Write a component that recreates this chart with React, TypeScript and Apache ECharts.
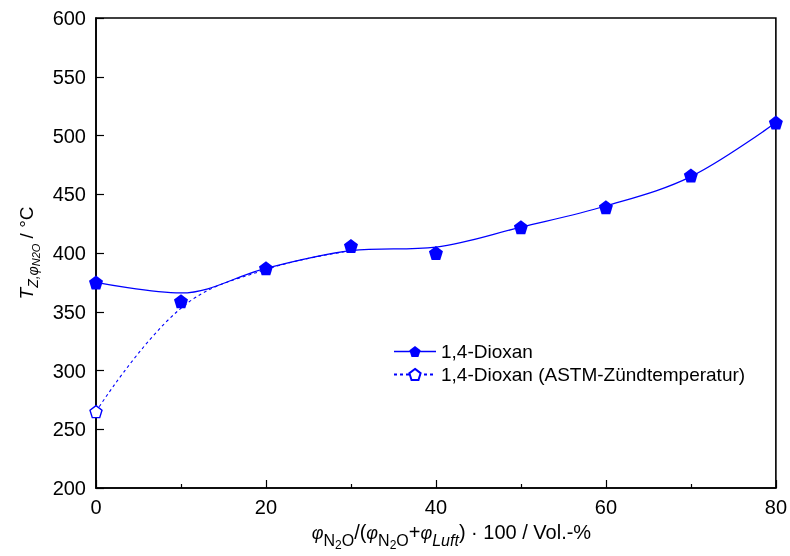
import React, { useEffect, useRef } from "react";
import * as echarts from "echarts";

// Volumenanteil N2O in %
const X_VALUES = [0, 10, 20, 30, 40, 50, 60, 70, 80];
// gemessene Zündtemperaturen 1,4-Dioxan / °C
const DIOXAN = [375, 359, 387, 406, 400, 422, 439, 466, 511];
// geglätteter Verlauf der Messreihe / °C
const DIOXAN_TREND = [375, 366, 387, 402, 405, 422, 440, 465, 511];
// ASTM-Zündtemperatur und Übergang in die Messreihe
const ASTM_X = [0, 10, 20, 30];
const ASTM = [265, 353, 386, 402];

const Y_TICKS = { min: 200, max: 600, interval: 50 };
const X_TICKS = { min: 0, max: 80, interval: 20 };

const BLUE = "#0000ff";
const FONT = "'Liberation Sans', Arial, sans-serif";
const PENTAGON = "path://M0,-10L9.51,-3.09L5.88,8.09L-5.88,8.09L-9.51,-3.09Z";

export default function App() {
  const ref = useRef<HTMLDivElement>(null);

  useEffect(() => {
    if (!ref.current) return;
    const chart = echarts.init(ref.current, undefined, { renderer: "svg" });

    const measured = X_VALUES.map((x, i) => [x, DIOXAN[i]]);
    const trend = X_VALUES.map((x, i) => [x, DIOXAN_TREND[i]]);
    const astm = ASTM_X.map((x, i) =>
      i === 0 ? { value: [x, ASTM[i]] } : { value: [x, ASTM[i]], symbol: "none" }
    );

    chart.setOption({
      animation: false,
      textStyle: { fontFamily: FONT, color: "#000" },
      grid: {
        left: 96,
        right: 11,
        top: 18,
        bottom: 60,
        show: true,
        borderColor: "#000",
        borderWidth: 1.6,
        backgroundColor: "transparent",
      },
      legend: {
        orient: "vertical",
        left: 388,
        top: 337,
        itemWidth: 42,
        itemHeight: 14,
        itemGap: 4,
        textStyle: { fontFamily: FONT, fontSize: 19, color: "#000" },
        data: [
          {
            name: "1,4-Dioxan",
            lineStyle: { opacity: 1, width: 1.3, color: BLUE, type: "solid" },
          },
          { name: "1,4-Dioxan (ASTM-Zündtemperatur)" },
        ],
      },
      xAxis: {
        type: "value",
        min: X_TICKS.min,
        max: X_TICKS.max,
        interval: X_TICKS.interval,
        splitLine: { show: false },
        axisLine: { show: true, lineStyle: { color: "#000", width: 1.6 } },
        axisTick: { show: true, inside: true, length: 8, lineStyle: { color: "#000", width: 1.2 } },
        minorTick: { show: true, splitNumber: 2, length: 4, lineStyle: { color: "#000", width: 1.2 } },
        axisLabel: { fontFamily: FONT, fontSize: 20, color: "#000", margin: 9 },
        nameLocation: "middle",
        nameGap: 34,
        name:
          "{s|φ}{ss|N}{sss|2}{ss|O}{n|/(}{s|φ}{ss|N}{sss|2}{ss|O}{n|+}{s|φ}{si|Luft}{n|) · 100 / Vol.-%}",
        nameTextStyle: {
          padding: [0, 0, 0, 31],
          rich: {
            n: { fontFamily: FONT, fontSize: 20, lineHeight: 22, verticalAlign: "top", color: "#000" },
            s: { fontFamily: FONT, fontSize: 18, fontStyle: "italic", lineHeight: 20, padding: [2, 0, 0, 0], verticalAlign: "top", color: "#000" },
            ss: { fontFamily: FONT, fontSize: 16, lineHeight: 16, padding: [10, 0, 0, 0], verticalAlign: "top", color: "#000" },
            si: { fontFamily: FONT, fontSize: 16, fontStyle: "italic", lineHeight: 16, padding: [10, 0, 0, 0], verticalAlign: "top", color: "#000" },
            sss: { fontFamily: FONT, fontSize: 12, lineHeight: 12, padding: [17, 0, 0, 0], verticalAlign: "top", color: "#000" },
          },
        },
      },
      yAxis: {
        type: "value",
        min: Y_TICKS.min,
        max: Y_TICKS.max,
        interval: Y_TICKS.interval,
        splitLine: { show: false },
        axisLine: { show: true, lineStyle: { color: "#000", width: 1.6 } },
        axisTick: { show: true, inside: true, length: 8, lineStyle: { color: "#000", width: 1.2 } },
        axisLabel: { fontFamily: FONT, fontSize: 20, color: "#000", margin: 10 },
        nameLocation: "middle",
        nameGap: 58,
        nameRotate: 90,
        name: "{b|T}{s|Z,φ}{ss|N2O}{n| / °C}",
        nameTextStyle: {
          rich: {
            b: { fontFamily: FONT, fontSize: 19, fontStyle: "italic", lineHeight: 20, verticalAlign: "top", color: "#000" },
            s: { fontFamily: FONT, fontSize: 14, fontStyle: "italic", lineHeight: 14, padding: [9, 0, 0, 0], verticalAlign: "top", color: "#000" },
            ss: { fontFamily: FONT, fontSize: 11, fontStyle: "italic", lineHeight: 12, padding: [14, 0, 0, 0], verticalAlign: "top", color: "#000" },
            n: { fontFamily: FONT, fontSize: 19, lineHeight: 20, verticalAlign: "top", color: "#000" },
          },
        },
      },
      series: [
        {
          name: "Verlauf",
          type: "line",
          data: trend,
          smooth: 0.35,
          symbol: "none",
          silent: true,
          lineStyle: { color: BLUE, width: 1.3 },
          z: 2,
        },
        {
          name: "1,4-Dioxan (ASTM-Zündtemperatur)",
          type: "line",
          data: astm,
          smooth: 0.4,
          symbol: PENTAGON,
          symbolSize: 12,
          showAllSymbol: true,
          lineStyle: { color: BLUE, width: 1.1, type: [3, 3] },
          itemStyle: { color: "#fff", borderColor: BLUE, borderWidth: 1.4 },
          z: 3,
        },
        {
          name: "1,4-Dioxan",
          type: "line",
          data: measured,
          symbol: PENTAGON,
          symbolSize: 14,
          showAllSymbol: true,
          lineStyle: { opacity: 0, width: 1.3, color: BLUE },
          itemStyle: { color: BLUE },
          z: 4,
        },
      ],
    });

    return () => chart.dispose();
  }, []);

  return (
    <div
      ref={ref}
      style={{ position: "fixed", left: 0, top: 0, width: 790, height: 556 }}
    />
  );
}
